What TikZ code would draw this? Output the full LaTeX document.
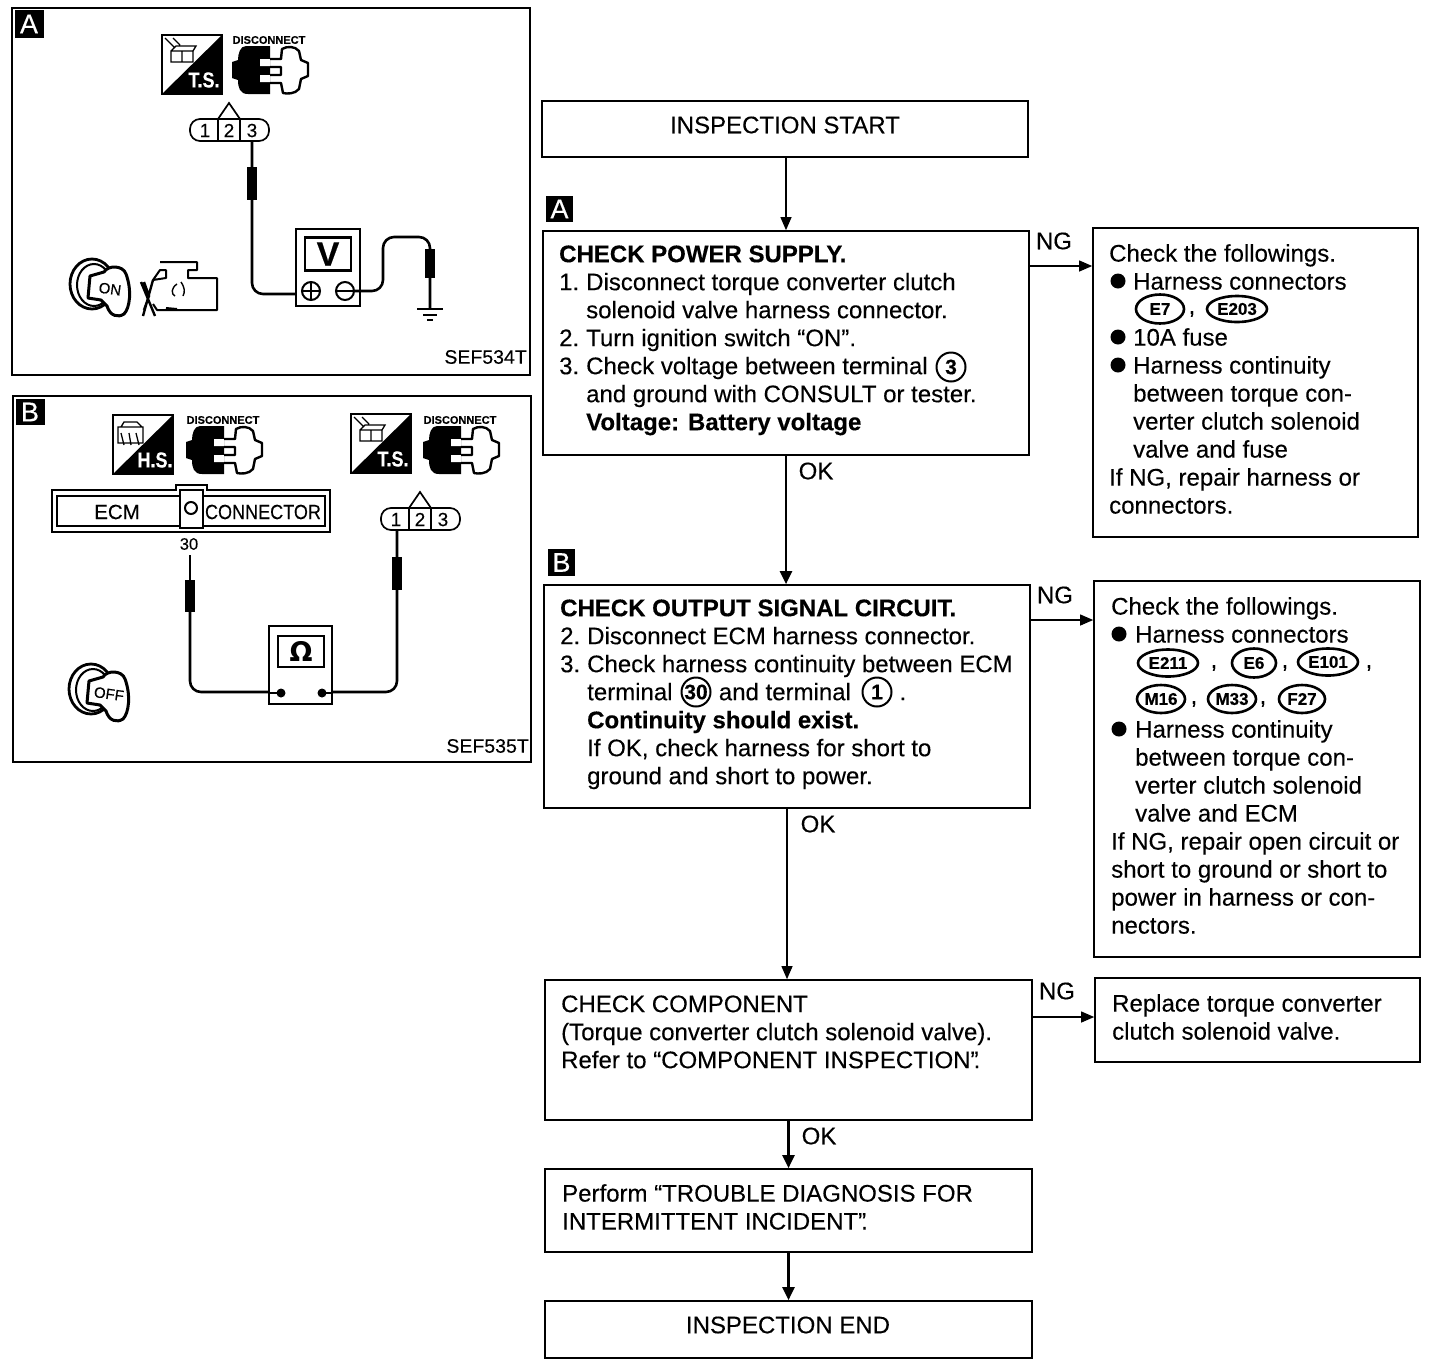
\documentclass[tikz,border=0pt]{standalone}
\usepackage{fontspec}
\setmainfont[FakeBold=0.25,BoldFeatures={FakeBold=0.35}]{Liberation Sans}
\usetikzlibrary{arrows.meta,calc,shapes.geometric}
\newcommand{\fsz}[1]{\fontsize{#1}{28}\selectfont}
\newcommand{\firstline}{\rule{0pt}{17pt}}
\newcommand{\ind}[1]{\makebox[27pt][l]{#1}}
\newcommand{\rind}{\hspace*{24pt}}
\tikzset{
  flowbox/.style={draw,line width=1.7pt,inner sep=0pt,fill=white},
  panel/.style={draw,line width=1.7pt,inner sep=0pt},
  txt/.style={anchor=north west,inner sep=0pt,align=left,font=\fsz{24}},
  lab/.style={inner sep=0pt,font=\fsz{24}},
  arrthin/.style={line width=1.1pt,-{Triangle[length=13pt,width=11pt]}},
  arrthick/.style={line width=2.4pt,-{Triangle[length=13pt,width=12pt]}},
  badge/.style={fill=black,text=white,inner sep=0pt,font=\fsz{27}},
  oval/.style={draw,ellipse,line width=2.6pt,inner sep=0pt,font=\bfseries\fsz{17}},
  circnum/.style={draw,circle,line width=2pt,inner sep=0pt,minimum size=29pt,font=\bfseries\fsz{21}},
  comma/.style={inner sep=0pt,font=\fsz{24}},
  wire/.style={line width=2.6pt,rounded corners=11pt},
  probe/.style={fill=black,draw=none},
  iconlab/.style={text=white,inner sep=0pt,yscale=1.2,font=\bfseries\fsz{18}},
  tsicon/.pic={
    \draw[line width=1.5pt,fill=white] (0,0) rectangle (60,59);
    \fill (60,0) -- (60,59) -- (0,59) -- cycle;
    \draw[line width=1.3pt] (9,16) rectangle (20,27) (20,16) rectangle (31,27) (9,16) -- (14,11) -- (34,11) -- (31,16) (3,3) -- (13,13) (11,3) -- (18,10);
    \node[iconlab] at (42,45) {\tikzpictext};
  },
  hsicon/.pic={
    \draw[line width=1.5pt,fill=white] (0,0) rectangle (60,59);
    \fill (60,0) -- (60,59) -- (0,59) -- cycle;
    \draw[line width=1.3pt] (5,12) rectangle (30,28) (8,12) -- (11,7) -- (24,7) -- (29,12) (8,18) -- (11,30) (16,18) -- (18,30) (23,18) -- (26,30);
    \node[iconlab] at (42,45) {\tikzpictext};
  },
  discicon/.pic={
    \fill (38,0) -- (14,0) .. controls (8,0) and (6,8) .. (6,14) -- (0,16) -- (0,32) -- (6,34) .. controls (6,42) and (8,48) .. (16,48) -- (38,48) -- cycle;
    \fill[white] (28,13) rectangle (38,20) (28,29) rectangle (38,36);
    \draw[line width=2.4pt,line join=round] (38,13) -- (49,13) -- (50,3) .. controls (55,0) and (63,0) .. (67,5) -- (69,14) -- (76,17) -- (76,30) -- (69,33) -- (67,43) .. controls (63,48) and (55,48) .. (51,47) -- (49,37) -- (38,37) (38,21) -- (49,21) -- (49,29) -- (38,29);
    \node[inner sep=0pt,font=\bfseries\fsz{11}] at (37,-6) {DISCONNECT};
  },
  keyicon/.pic={
    \draw[line width=2.8pt] (24,27) ellipse (22 and 25);
    \draw[line width=2pt] (26,28) ellipse (17 and 21);
    \draw[line width=3pt,fill=white,line join=round] (22,19) -- (36,15) .. controls (40,8) and (55,8) .. (58,17) .. controls (64,33) and (62,51) .. (56,57) .. controls (50,61) and (42,59) .. (39,49) -- (33,43) -- (20,41) -- cycle;
    \node[inner sep=0pt,rotate=-8,font=\fsz{15}] at (42,32) {\tikzpictext};
  },
  engineicon/.pic={
    \draw[line width=2pt,line join=round] (19,0) -- (56,0) -- (56,8) -- (47,8) -- (47,16) -- (76,16) -- (76,48) -- (16,48) -- (12,42) (12,18) -- (25,16) -- (25,8) -- (19,8) -- cycle;
    \draw[line width=2.4pt] (0,20) -- (14,54) (12,18) -- (2,54) (3,20) -- (8,34) -- (3,48);
    \draw[line width=1.4pt] (36,22) .. controls (30,26) and (30,32) .. (34,34) (40,20) .. controls (44,26) and (44,30) .. (42,34);
    \draw[line width=2pt] (25,46) -- (36,47);
  },
  conn/.pic={
    \draw[line width=1.7pt,rounded corners=10pt,fill=white] (0,0) rectangle (79,22);
    \draw[line width=1.7pt] (28,0) -- (28,22) (50,0) -- (50,22) (28,0) -- (39,-16) -- (50,0);
    \node[inner sep=0pt,font=\fsz{19}] at (15,11.5) {1};
    \node[inner sep=0pt,font=\fsz{19}] at (39,11.5) {2};
    \node[inner sep=0pt,font=\fsz{19}] at (62,11.5) {3};
  },
}
\begin{document}
\begin{tikzpicture}[x=1pt,y=-1pt]
\useasboundingbox (0,0) rectangle (1440,1366);
\fill[white] (0,0) rectangle (1440,1366);
% ---- panel A
\node[panel,minimum width=518pt,minimum height=367pt] (panelA) at (271,191.5) {};
\node[badge,minimum width=29pt,minimum height=28pt] (badgeA) at (29,24) {A};
\def\tikzpictext{T.S.}
\pic at (162,35) {tsicon};
\pic at (232,46) {discicon};
\pic at (190,119) {conn};
\draw[wire] (252,141) -- (252,294) -- (311,294);
\fill[probe] (247,167) rectangle (257,200);
\node[draw,line width=2pt,inner sep=0pt,fill=white,minimum width=64pt,minimum height=77pt] (meterA) at (328,267.5) {};
\node[draw,line width=2.4pt,inner sep=0pt,minimum width=46pt,minimum height=33pt,font=\bfseries\fsz{34}] (screenA) at (328,254) {V};
\node[draw,circle,line width=2pt,inner sep=0pt,minimum size=18pt] (plusA) at (311,291) {};
\draw[line width=2pt] (plusA.west) -- (plusA.east) (plusA.north) -- (plusA.south);
\node[draw,circle,line width=2pt,inner sep=0pt,minimum size=18pt] (minusA) at (345,291) {};
\draw[line width=2pt] (minusA.west) -- (minusA.east);
\draw[wire] (minusA.east) -- (383,291) -- (383,237) -- (430,237) -- (430,309);
\fill[probe] (425,249) rectangle (435,278);
\coordinate (gndA) at (430,309);
\draw[line width=2.5pt] ($(gndA)+(-13,0)$) -- ($(gndA)+(13,0)$);
\draw[line width=2pt] ($(gndA)+(-7,6)$) -- ($(gndA)+(7,6)$);
\draw[line width=2pt] ($(gndA)+(-3,11)$) -- ($(gndA)+(3,11)$);
\def\tikzpictext{ON}
\pic at (68,257) {keyicon};
\pic at (141,262) {engineicon};
\node[inner sep=0pt,anchor=east,font=\fsz{19.5}] (sefA) at (527,357) {SEF534T};
% ---- panel B
\node[panel,minimum width=518pt,minimum height=366pt] (panelB) at (272,579) {};
\node[badge,minimum width=29pt,minimum height=26pt] (badgeB) at (30,412) {B};
\def\tikzpictext{H.S.}
\pic at (113,415) {hsicon};
\pic at (186,426) {discicon};
\def\tikzpictext{T.S.}
\pic at (351,414) {tsicon};
\pic at (423,426) {discicon};
\draw[line width=1.8pt,fill=white] (52,490) -- (176,490) -- (176,485) -- (207,485) -- (207,490) -- (330,490) -- (330,532) -- (52,532) -- cycle;
\draw[line width=2.6pt] (57,496) rectangle (325,526);
\node[draw,line width=2pt,fill=white,inner sep=0pt,minimum width=23pt,minimum height=38pt] (pinB) at (191,509) {};
\node[draw,circle,line width=2pt,inner sep=0pt,minimum size=12pt] (holeB) at (191,508) {};
\node[inner sep=0pt,font=\fsz{20.5}] (ecmlab) at (117,512) {ECM};
\node[inner sep=0pt,xscale=0.88,font=\fsz{20.5}] (connlab) at (263,512) {CONNECTOR};
\node[inner sep=0pt,font=\fsz{16.5}] (pin30) at (189,544) {30};
\pic at (381,508) {conn};
\draw[line width=2pt] (190,555) -- (190,582);
\draw[wire] (190,610) -- (190,692) -- (281,692);
\fill[probe] (185,580) rectangle (195,612);
\draw[wire] (397,530) -- (397,692) -- (322,692);
\fill[probe] (392,557) rectangle (402,590);
\node[draw,line width=2pt,fill=white,inner sep=0pt,minimum width=63pt,minimum height=78pt] (meterB) at (300.5,665) {};
\node[draw,line width=2.2pt,inner sep=0pt,minimum width=46pt,minimum height=31pt,font=\bfseries\fsz{27}] (screenB) at (301,651.5) {\fontspec{DejaVu Sans}Ω};
\draw[line width=2.6pt] (270,693) -- (281,693);
\draw[line width=2.6pt] (322,693) -- (331,693);
\fill (281,693) circle (4.5) (322,693) circle (4.5);
\def\tikzpictext{OFF}
\pic at (67,662) {keyicon};
\node[inner sep=0pt,anchor=east,font=\fsz{19.5}] (sefB) at (529,746) {SEF535T};
% ---- flow boxes
\node[flowbox,minimum width=486pt,minimum height=56pt,lab] (start) at (785,129) {};
\node[lab] (starttext) at (785,125) {INSPECTION START};
\node[flowbox,minimum width=486pt,minimum height=224pt] (chkA) at (786,343) {};
\node[flowbox,minimum width=325pt,minimum height=309pt] (repA) at (1255.5,382.5) {};
\node[flowbox,minimum width=486pt,minimum height=223pt] (chkB) at (787,696.5) {};
\node[flowbox,minimum width=326pt,minimum height=376pt] (repB) at (1257,769) {};
\node[flowbox,minimum width=487pt,minimum height=140pt] (chkC) at (788.5,1050) {};
\node[flowbox,minimum width=325pt,minimum height=84pt] (repC) at (1257.5,1020) {};
\node[flowbox,minimum width=487pt,minimum height=83pt] (perf) at (788.5,1210.5) {};
\node[flowbox,minimum width=487pt,minimum height=57pt] (finish) at (788.5,1329.5) {};
\node[lab] (finishtext) at (788,1325) {INSPECTION END};
\node[badge,minimum width=27pt,minimum height=26pt] (flowA) at (559.5,209) {A};
\node[badge,minimum width=27pt,minimum height=27pt] (flowB) at (561.5,562.5) {B};
% ---- connectors
\draw[arrthin] ([xshift=1pt]start.south) -- ([xshift=1pt]start.south |- chkA.north);
\draw[arrthick] (chkA.south) -- (chkA.south |- chkB.north);
\draw[arrthin] (chkB.south) -- (chkB.south |- chkC.north);
\draw[arrthick] (chkC.south) -- (chkC.south |- perf.north);
\draw[arrthick] (perf.south) -- (perf.south |- finish.north);
\draw[arrthin] ([yshift=77pt]chkA.east) -- ([yshift=77pt]chkA.east -| repA.west);
\draw[arrthin] ([yshift=76.5pt]chkB.east) -- ([yshift=76.5pt]chkB.east -| repB.west);
\draw[arrthin] ([yshift=33pt]chkC.east) -- ([yshift=33pt]chkC.east -| repC.west);
\node[lab] (ngA) at (1054,241) {NG};
\node[lab] (ngB) at (1055,595) {NG};
\node[lab] (ngC) at (1057,991) {NG};
\node[lab] (okA) at (816,471) {OK};
\node[lab] (okB) at (818,824) {OK};
\node[lab] (okC) at (819,1136) {OK};
% ---- box texts
\node[txt] (tA) at (559,245) {\firstline\textbf{CHECK POWER SUPPLY.}\\
\ind{1.}Disconnect torque converter clutch\\
\ind{}solenoid valve harness connector.\\
\ind{2.}Turn ignition switch “ON”.\\
\ind{3.}Check voltage between terminal\\
\ind{}and ground with CONSULT or tester.\\
\ind{}\textbf{Voltage: Battery voltage}};
\node[circnum] (c3) at (951,367) {3};
\node[txt] (tB) at (560,599) {\firstline\textbf{CHECK OUTPUT SIGNAL CIRCUIT.}\\
\ind{2.}Disconnect ECM harness connector.\\
\ind{3.}Check harness continuity between ECM\\
\ind{}terminal \hspace{33pt} and terminal \hspace{42pt}.\\
\ind{}\textbf{Continuity should exist.}\\
\ind{}If OK, check harness for short to\\
\ind{}ground and short to power.};
\node[circnum] (c30) at (696,692) {30};
\node[circnum] (c1) at (877,692) {1};
\node[txt] (tC) at (561,995) {\firstline CHECK COMPONENT\\
(Torque converter clutch solenoid valve).\\
Refer to “COMPONENT INSPECTION”\kern-5pt.};
\node[txt] (tD) at (562,1184) {\firstline Perform “TROUBLE DIAGNOSIS FOR\\
INTERMITTENT INCIDENT”\kern-5pt.};
% right column A
\node[txt] (r1a) at (1109,244) {\firstline Check the followings.\\
\rind Harness connectors};
\node[txt] (r1b) at (1109,328) {\firstline\rind 10A fuse\\
\rind Harness continuity\\
\rind between torque con-\\
\rind verter clutch solenoid\\
\rind valve and fuse\\
If NG, repair harness or\\
connectors.};
\fill (1118,281) circle (7.5) (1118,337) circle (7.5) (1118,365) circle (7.5);
\node[oval,minimum width=48pt,minimum height=29pt] (e7) at (1160,309) {E7};
\node[comma] (cm1) at (1192,314) {,};
\node[oval,minimum width=60pt,minimum height=26pt] (e203) at (1237,309) {E203};
% right column B
\node[txt] (r2a) at (1111,597) {\firstline Check the followings.\\
\rind Harness connectors};
\node[txt] (r2b) at (1111,720) {\firstline\rind Harness continuity\\
\rind between torque con-\\
\rind verter clutch solenoid\\
\rind valve and ECM\\
If NG, repair open circuit or\\
short to ground or short to\\
power in harness or con-\\
nectors.};
\fill (1119,634) circle (7.5) (1119,729) circle (7.5);
\node[oval,minimum width=60pt,minimum height=27pt] (e211) at (1168,663) {E211};
\node[comma] (cm2) at (1214,668) {,};
\node[oval,minimum width=44pt,minimum height=29pt] (e6) at (1254,663) {E6};
\node[comma] (cm3) at (1285,668) {,};
\node[oval,minimum width=60pt,minimum height=27pt] (e101) at (1328,662) {E101};
\node[comma] (cm4) at (1369,668) {,};
\node[oval,minimum width=48pt,minimum height=28pt] (m16) at (1161,699) {M16};
\node[comma] (cm5) at (1194,704) {,};
\node[oval,minimum width=48pt,minimum height=28pt] (m33) at (1232,699) {M33};
\node[comma] (cm6) at (1263,704) {,};
\node[oval,minimum width=46pt,minimum height=28pt] (f27) at (1302,699) {F27};
% right column C
\node[txt] (r3) at (1112,994) {\firstline Replace torque converter\\
clutch solenoid valve.};
\end{tikzpicture}
\end{document}
